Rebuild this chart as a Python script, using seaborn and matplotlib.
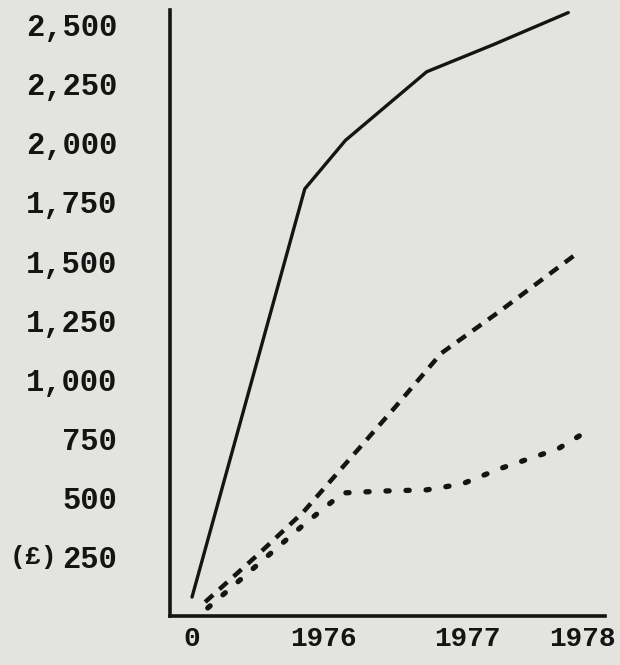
import matplotlib
matplotlib.use("Agg")
import matplotlib.pyplot as plt
import seaborn as sns
import pandas as pd

# ---- data ----
year_labels = ["0", "1976", "1977", "1978"]
year_pos = [0.0, 1.0, 2.1, 2.98]

y_ticks = [250, 500, 750, 1000, 1250, 1500, 1750, 2000, 2250, 2500]
y_tick_labels = ["250", "500", "750", "1,000", "1,250", "1,500",
                 "1,750", "2,000", "2,250", "2,500"]

solid_x = [0.0, 0.86, 1.17, 1.79, 2.30, 2.87]
solid_y = [80, 1805, 2010, 2300, 2415, 2550]

dashed_x = [0.10, 0.50, 0.85, 1.55, 1.90, 2.34, 2.95]
dashed_y = [59, 258, 440, 883, 1110, 1285, 1538]

dotted_x = [0.12, 0.85, 1.15, 1.45, 1.79, 2.06, 2.34, 2.79, 3.04]
dotted_y = [34, 385, 520, 528, 533, 558, 621, 706, 790]

# ---- style ----
sns.set_style("white")
paper = "#e3e3e0"
ink = "#141414"
plt.rcParams["font.family"] = ["Liberation Mono", "DejaVu Sans"]
plt.rcParams["font.weight"] = "bold"

fig = plt.figure(figsize=(6.2, 6.65), dpi=100, facecolor=paper)
ax = fig.add_axes([170 / 620, (665 - 616) / 665, (605 - 170) / 620, 606 / 665])
ax.set_facecolor(paper)

df_solid = pd.DataFrame({"x": solid_x, "y": solid_y})
df_dash = pd.DataFrame({"x": dashed_x, "y": dashed_y})
df_dot = pd.DataFrame({"x": dotted_x, "y": dotted_y})

sns.lineplot(data=df_solid, x="x", y="y", ax=ax, color=ink, lw=2.4,
             estimator=None, sort=False)
sns.lineplot(data=df_dash, x="x", y="y", ax=ax, color=ink, lw=3.2,
             estimator=None, sort=False, linestyle=(0, (2.4, 1.9)))
sns.lineplot(data=df_dot, x="x", y="y", ax=ax, color=ink, lw=3.8,
             estimator=None, sort=False, linestyle=(0, (0.6, 3.2)),
             dash_capstyle="round")

ax.set_xlim(-0.168, 3.15)
ax.set_ylim(0, 2561)

ax.set_yticks(y_ticks)
ax.set_yticklabels(y_tick_labels, fontsize=22, fontweight="bold", color=ink)
ax.set_xticks(year_pos)
ax.set_xticklabels(year_labels, fontsize=20, fontweight="bold", color=ink)

ax.tick_params(axis="y", direction="out", length=8, width=2.2, color=ink, pad=30)
ax.tick_params(axis="x", length=0, pad=7)
ax.yaxis.get_major_ticks()[0].tick1line.set_visible(False)

for side in ["top", "right"]:
    ax.spines[side].set_visible(False)
for side in ["left", "bottom"]:
    ax.spines[side].set_color(ink)
    ax.spines[side].set_linewidth(2.6)

ax.set_xlabel("")
ax.set_ylabel("")

ax.annotate("(£)", xy=(0, 250), xycoords=("axes fraction", "data"),
            xytext=(-81, 0), textcoords="offset points", ha="right",
            va="center", fontsize=19, fontweight="bold", color=ink)

fig.savefig("out.png", dpi=100, facecolor=paper)
